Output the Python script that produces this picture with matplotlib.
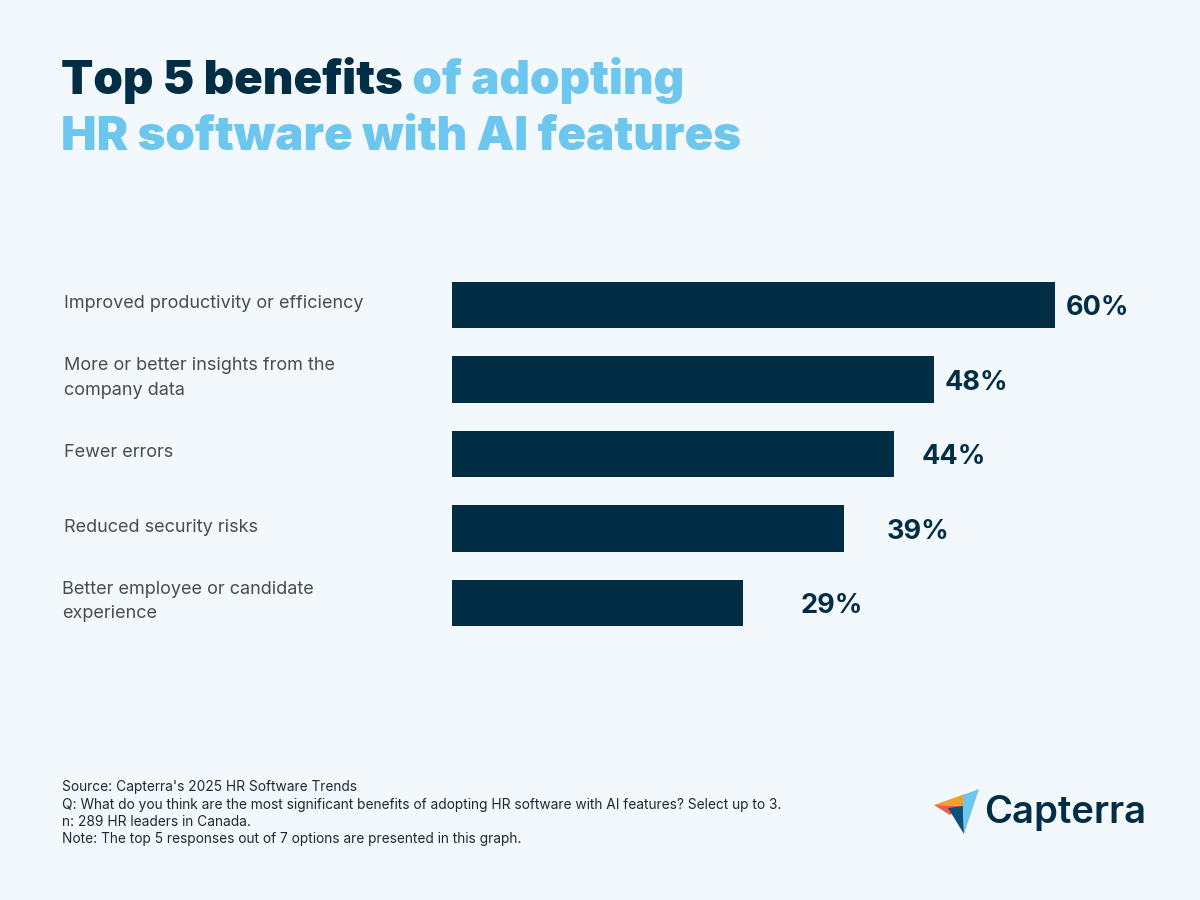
import matplotlib
matplotlib.use("Agg")
import matplotlib.pyplot as plt
from matplotlib.patches import Polygon

categories = [
    "Improved productivity or efficiency",
    "More or better insights from the\ncompany data",
    "Fewer errors",
    "Reduced security risks",
    "Better employee or candidate\nexperience",
]
values = [60, 48, 44, 39, 29]
value_labels = ["60%", "48%", "44%", "39%", "29%"]

BG = "#F3F8FC"
NAVY = "#012D45"
LIGHT = "#6CC6EE"
GRAY = "#474D53"

plt.rcParams['font.family'] = ['Inter', 'DejaVu Sans']

fig = plt.figure(figsize=(12, 9), dpi=100, facecolor=BG)

W, H = 1200, 900
def fx(px): return px / W
def fy(py): return 1 - py / H

# axes: x from 452 px to 1055 px maps 0..60
ax = fig.add_axes([fx(452), fy(640.25), (1055 - 452) / W, 372.5 / H])
ax.set_facecolor(BG)
ax.set_xlim(0, 60)
ax.set_ylim(4.5, -0.5)
ypos = list(range(len(categories)))
ax.barh(ypos, values, height=0.62, color=NAVY, edgecolor='none')
for s in ax.spines.values():
    s.set_visible(False)
ax.set_xticks([])
ax.set_yticks([])

# value labels, gaps after bar end (points)
gaps = [7.5, 7.5, 20, 30.5, 41]
for y, v, lab, g in zip(ypos, values, value_labels, gaps):
    ax.annotate(lab, xy=(v, y), xytext=(g, -2.5), textcoords='offset points',
                va='center', ha='left', fontsize=19.5, fontweight='bold',
                color=NAVY, annotation_clip=False)

# category labels
for y, c in zip(ypos, categories):
    xpx = 62 if c.startswith("Better") else 64
    ax.text(-(452 - xpx) / ((1055 - 452) / 60), y - 0.02, c, ha='left', va='center',
            fontsize=13, color=GRAY, linespacing=1.55, clip_on=False)

# title
TS = 34.1
t1 = fig.text(fx(61), fy(104), "Top 5 benefits", fontsize=TS, fontweight='black',
              color=NAVY, ha='left', va='bottom')
ax.annotate(" of adopting", xy=(1, 0), xycoords=t1,
            xytext=(0, 0), textcoords='offset points',
            fontsize=TS, fontweight='black', color=LIGHT,
            ha='left', va='bottom', annotation_clip=False)
fig.text(fx(61), fy(160), "HR software with AI features", fontsize=TS,
         fontweight='black', color=LIGHT, ha='left', va='bottom')

# footer
footer = [
    "Source: Capterra's 2025 HR Software Trends",
    "Q: What do you think are the most significant benefits of adopting HR software with AI features? Select up to 3.",
    "n: 289 HR leaders in Canada.",
    "Note: The top 5 responses out of 7 options are presented in this graph.",
]
for i, line in enumerate(footer):
    fig.text(fx(62), fy(787.5 + 17 * i), line, fontsize=9.9, color="#1E2A33",
             ha='left', va='center')

# Capterra logo
def poly(pts, color):
    p = Polygon([(fx(x), fy(y)) for x, y in pts], closed=True, color=color,
                transform=fig.transFigure, lw=0)
    fig.patches.append(p)

poly([(934, 805), (965, 794), (963, 806)], "#F79F2A")
poly([(934, 805), (963, 806), (950, 815)], "#EE5A4B")
poly([(948, 808), (963, 806), (964, 834)], "#0A4F7E")
poly([(979, 789), (963, 795), (963, 806), (964, 834)], "#6CC6EE")
fig.text(fx(984), fy(813), "Capterra", fontsize=27.5, fontweight='semibold',
         color=NAVY, ha='left', va='center')

fig.savefig("out.png", dpi=100, facecolor=BG)
